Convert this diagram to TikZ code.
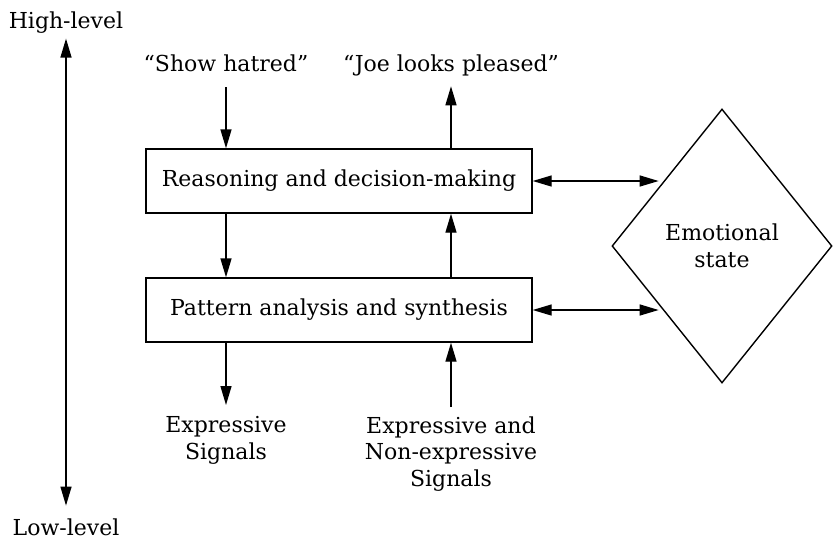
\documentclass[tikz,border=0pt]{standalone}
\usepackage{fontspec}
\setmainfont{DejaVu Serif}
\usetikzlibrary{arrows.meta,shapes.geometric}

\begin{document}
\begin{tikzpicture}[x=1pt,y=-1pt,line width=1.4pt,font=\fontsize{22}{26.5}\selectfont,
	lbl/.style={inner sep=0pt,align=center},
	blk/.style={draw,rectangle,minimum width=386pt,minimum height=64pt,inner sep=0pt},
	arr/.style={-{Triangle[length=19pt,width=11pt]}},
	dbl/.style={{Triangle[length=19pt,width=11pt]}-{Triangle[length=19pt,width=11pt]}}]
	\useasboundingbox (0,0) rectangle (833,542);

	%level axis
	\node[lbl,anchor=base] (hi) at (66,28) {High-level};
	\node[lbl,anchor=base] (lo) at (66,535) {Low-level};
	\draw[dbl,shorten <=5pt,shorten >=12pt] (hi.south) -- (lo.north); %high to low

	%boxes
	\node[blk] (reason) at (339,181) {Reasoning and decision-making};
	\node[blk] (pattern) at (339,310) {Pattern analysis and synthesis};
	\node[draw,diamond,minimum width=220pt,minimum height=274pt,inner sep=0pt,align=center] (emo) at (722,246) {Emotional\\state};

	%labels
	\node[lbl,anchor=base] (hatred) at (226,71) {“Show hatred”};
	\node[lbl,anchor=base] (pleased) at (451,71) {“Joe looks pleased”};
	\node[lbl,anchor=north] (exp) at (226,416) {Expressive\\Signals};
	\node[lbl,anchor=north] (nonexp) at (451,416) {Expressive and\\Non-expressive\\Signals};

	%down the left side
	\draw[arr,shorten <=15pt] (hatred.south) -- (reason.north -| hatred.south);
	\draw[arr] (reason.south -| hatred.south) -- (pattern.north -| hatred.south);
	\draw[arr,shorten >=11pt] (pattern.south -| exp.north) -- (exp.north);

	%up the right side
	\draw[arr,shorten <=9pt] (nonexp.north) -- (pattern.south -| nonexp.north);
	\draw[arr] (pattern.north -| nonexp.north) -- (reason.south -| nonexp.north);
	\draw[arr,shorten >=10pt] (reason.north -| pleased.south) -- (pleased.south);

	%to and from the emotional state
	\draw[dbl,shorten >=8pt] (reason.east) -- (reason.east -| emo.north west);
	\draw[dbl,shorten >=8pt] (pattern.east) -- (pattern.east -| emo.south west);

\end{tikzpicture}
\end{document}
